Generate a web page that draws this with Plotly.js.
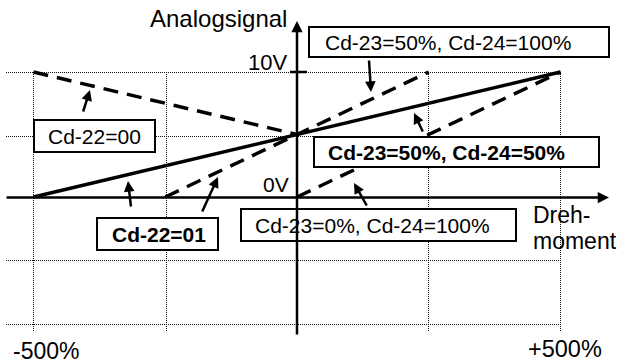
<!DOCTYPE html>
<html>
<head>
<meta charset="utf-8">
<script src="https://cdn.plot.ly/plotly-3.0.1.min.js"></script>
<style>html,body{margin:0;padding:0;background:#fff;}#chart{width:620px;height:363px;}</style>
</head>
<body>
<div id="chart"></div>
<script>
// ---- data ----
const xSolid = [-500, 500];      // Cd-23=50%, Cd-24=50% (Cd-22=01)
const ySolid = [0, 10];
const xCd2200 = [-500, 0];       // Cd-22=00
const yCd2200 = [10, 5];
const x50_100 = [-250, 250];     // Cd-23=50%, Cd-24=100%
const y50_100 = [0, 10];
const x0_100 = [0, 500];         // Cd-23=0%, Cd-24=100%
const y0_100 = [0, 10];
const xTickLabels = ['-500%', '+500%'];
const yTickLabels = ['0V', '10V'];
const axisTitles = ['Analogsignal', 'Dreh-', 'moment'];
const boxLabels = ['Cd-22=00', 'Cd-23=50%, Cd-24=100%', 'Cd-23=50%, Cd-24=50%', 'Cd-22=01', 'Cd-23=0%, Cd-24=100%'];

// ---- layout helpers (pixel -> paper) ----
const W = 620, H = 363;
const px = v => v / W;
const py = v => 1 - v / H;
const FONT = 'Liberation Sans, Arial, sans-serif';

const dashStyle = '15px,9px';
const traces = [
  {x: xSolid, y: ySolid, mode: 'lines', line: {color: '#000', width: 3.5}},
  {x: xCd2200, y: yCd2200, mode: 'lines', line: {color: '#000', width: 3.5, dash: dashStyle}},
  {x: x50_100, y: y50_100, mode: 'lines', line: {color: '#000', width: 3.5, dash: dashStyle}},
  {x: x0_100, y: y0_100, mode: 'lines', line: {color: '#000', width: 3.5, dash: dashStyle}}
];

const shapes = [];
function gline(x0, y0, x1, y1) {
  shapes.push({type: 'line', xref: 'paper', yref: 'paper', x0: px(x0), y0: py(y0), x1: px(x1), y1: py(y1),
    line: {color: '#111', width: 1, dash: '1px,1px'}, layer: 'below'});
}
[72.5, 136.5, 260.5, 324.5].forEach(r => gline(6, r, 561, r));
[33.5, 166.5, 428.5, 560.5].forEach(c => gline(c, 72, c, 331));
// 10V tick
shapes.push({type: 'line', xref: 'paper', yref: 'paper', x0: px(290), y0: py(72), x1: px(307), y1: py(72),
  line: {color: '#000', width: 2.5}});
function box(x0, y0, x1, y1) {
  shapes.push({type: 'rect', xref: 'paper', yref: 'paper', x0: px(x0), y0: py(y0), x1: px(x1), y1: py(y1),
    line: {color: '#000', width: 2}, fillcolor: '#fff', layer: 'above'});
}
box(34, 120, 155, 152);
box(309, 27, 609, 57);
box(314, 137, 599, 167);
box(97, 218, 218, 250);
box(241, 209, 516, 241);

const annotations = [];
function arrow(tx, ty, sx, sy, w, size) {
  annotations.push({xref: 'paper', yref: 'paper', x: px(tx), y: py(ty), ax: sx - tx, ay: sy - ty,
    axref: 'pixel', ayref: 'pixel', text: '', showarrow: true, arrowhead: 2, arrowsize: size,
    arrowwidth: w, arrowcolor: '#000', standoff: 0, startstandoff: 0, font: {size: 1}, borderpad: 0});
}
// axes
arrow(609, 197.5, 6, 197.5, 2.5, 0.9);
arrow(297, 21, 297, 335, 2.5, 0.9);
// label arrows
arrow(90, 90, 83, 112, 2.5, 0.85);
arrow(371, 92, 369, 60, 2.5, 0.85);
arrow(414, 113, 423, 132, 2.5, 0.85);
arrow(128, 181, 131, 207, 2.5, 0.85);
arrow(218, 177, 202, 212, 2.5, 0.85);
arrow(354, 183, 367, 206, 2.5, 0.85);

function label(text, x, y, xanchor, size, bold) {
  annotations.push({xref: 'paper', yref: 'paper', x: px(x), y: py(y), xanchor: xanchor, yanchor: 'middle',
    text: bold ? '<b>' + text + '</b>' : text, showarrow: false, borderpad: 0, borderwidth: 0,
    font: {family: FONT, size: size, color: '#000'}});
}
label(boxLabels[0], 48, 136, 'left', 21, false);
label(boxLabels[1], 325, 42, 'left', 21, false);
label(boxLabels[2], 328, 152, 'left', 21, true);
label(boxLabels[3], 112, 234, 'left', 21, true);
label(boxLabels[4], 255, 225, 'left', 21, false);
label(axisTitles[0], 287, 18, 'right', 24, false);
label(axisTitles[1], 533, 215, 'left', 23, false);
label(axisTitles[2], 533, 241, 'left', 23, false);
label(yTickLabels[1], 287, 62.5, 'right', 22, false);
label(yTickLabels[0], 289, 184.5, 'right', 21, false);
label(xTickLabels[0], 13, 351, 'left', 23, false);
label(xTickLabels[1], 528, 349, 'left', 23.5, false);

const layout = {
  width: W, height: H,
  margin: {l: 0, r: 0, t: 0, b: 0, pad: 0},
  paper_bgcolor: '#fff', plot_bgcolor: '#fff',
  showlegend: false,
  xaxis: {range: [-297 / 0.527, (W - 297) / 0.527], visible: false, fixedrange: true},
  yaxis: {range: [-(H - 197) / 12.5, 197 / 12.5], visible: false, fixedrange: true},
  shapes: shapes,
  annotations: annotations
};
Plotly.newPlot('chart', traces, layout, {displayModeBar: false, staticPlot: true});
</script>
</body>
</html>
